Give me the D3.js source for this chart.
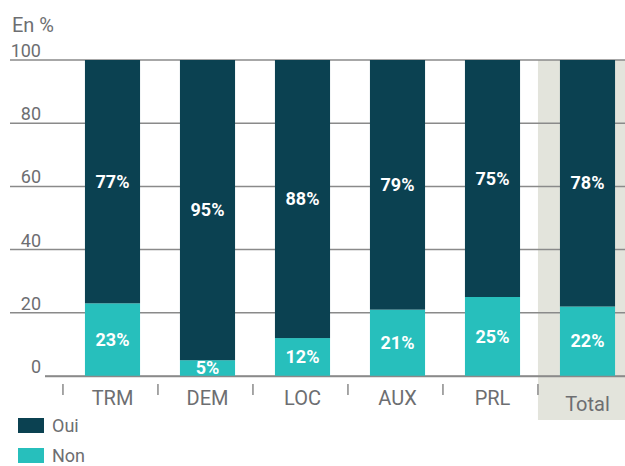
<!DOCTYPE html>
<html><head><meta charset="utf-8">
<script src="https://cdn.jsdelivr.net/npm/d3@7"></script>
<style>body{margin:0;background:#fff}svg{display:block}text{font-family:Roboto,"DejaVu Sans",sans-serif}</style>
</head><body>
<svg id="c" width="625" height="466"></svg>
<script>
const categories = ["TRM","DEM","LOC","AUX","PRL","Total"];
const oui = [77,95,88,79,75,78];
const non = [23,5,12,21,25,22];
const yTicks = [0,20,40,60,80,100];
const seriesNames = ["Oui","Non"];
const colors = {Oui:"#0b4151", Non:"#27bfbc"};

const svg = d3.select("#c");
const x = d3.scaleBand().domain(categories).range([65, 635]).paddingInner(0.42).paddingOuter(0.21);
const y = d3.scaleLinear().domain([0,100]).range([376, 60]);
const grey = "#6d6e71";
const sepX = d => x(d) - 22;

// Total background
svg.append("rect").attr("x", sepX("Total"))
  .attr("y", y(100)).attr("width", 625).attr("height", 420 - y(100)).attr("fill", "#e3e4dc");

// gridlines
svg.append("g").selectAll("line").data(yTicks).join("line")
  .attr("x1", d => d === 0 ? 45 : 10).attr("x2", 625)
  .attr("y1", d => y(d)).attr("y2", d => y(d))
  .attr("stroke", "#8a8a8a").attr("stroke-width", 1.5);
svg.append("g").selectAll("text").data(yTicks).join("text")
  .attr("x", 41).attr("y", d => y(d) - 3)
  .attr("text-anchor", "end").attr("fill", grey).attr("font-size", 18)
  .text(d => d);

svg.append("text").attr("x", 12).attr("y", 32).attr("fill", grey).attr("font-size", 20).text("En %");

// bars
const data = categories.map((c,i) => ({c, oui: oui[i], non: non[i]}));
const g = svg.append("g");
g.selectAll(".non").data(data).join("rect")
  .attr("x", d => x(d.c)).attr("width", x.bandwidth())
  .attr("y", d => y(d.non)).attr("height", d => y(0) - y(d.non)).attr("fill", colors.Non);
g.selectAll(".oui").data(data).join("rect")
  .attr("x", d => x(d.c)).attr("width", x.bandwidth())
  .attr("y", d => y(d.non + d.oui)).attr("height", d => y(d.non) - y(d.non + d.oui)).attr("fill", colors.Oui);
svg.append("line").attr("x1", 45).attr("x2", 625).attr("y1", y(0)+0.5).attr("y2", y(0)+0.5)
  .attr("stroke", "#8a8a8a").attr("stroke-width", 1.5);

// labels
g.selectAll(".lo").data(data).join("text")
  .attr("x", d => x(d.c) + x.bandwidth()/2).attr("y", d => y(d.non + d.oui/2) + 6)
  .attr("text-anchor","middle").attr("fill","#fff").attr("font-weight","bold").attr("font-size",18)
  .text(d => d.oui + "%");
g.selectAll(".ln").data(data).join("text")
  .attr("x", d => x(d.c) + x.bandwidth()/2).attr("y", d => y(d.non/2) + 6)
  .attr("text-anchor","middle").attr("fill","#fff").attr("font-weight","bold").attr("font-size",18)
  .text(d => d.non + "%");

// x category labels and separators
svg.append("g").selectAll("text").data(categories).join("text")
  .attr("x", d => x(d) + x.bandwidth()/2).attr("y", d => d === "Total" ? 411 : 405)
  .attr("text-anchor","middle").attr("fill", grey).attr("font-size", 20).text(d => d);
svg.append("g").selectAll("line").data(categories).join("line")
  .attr("x1", sepX).attr("x2", sepX)
  .attr("y1", 384).attr("y2", 395).attr("stroke", "#8a8a8a").attr("stroke-width", 1.5);

// legend
const lg = svg.append("g").selectAll("g").data(seriesNames).join("g")
  .attr("transform", (d,i) => `translate(18,${418 + i*30})`);
lg.append("rect").attr("width", 26).attr("height", 15).attr("fill", d => colors[d]);
lg.append("text").attr("x", 34).attr("y", 14).attr("fill", grey).attr("font-size", 18).text(d => d);
</script>
</body></html>
